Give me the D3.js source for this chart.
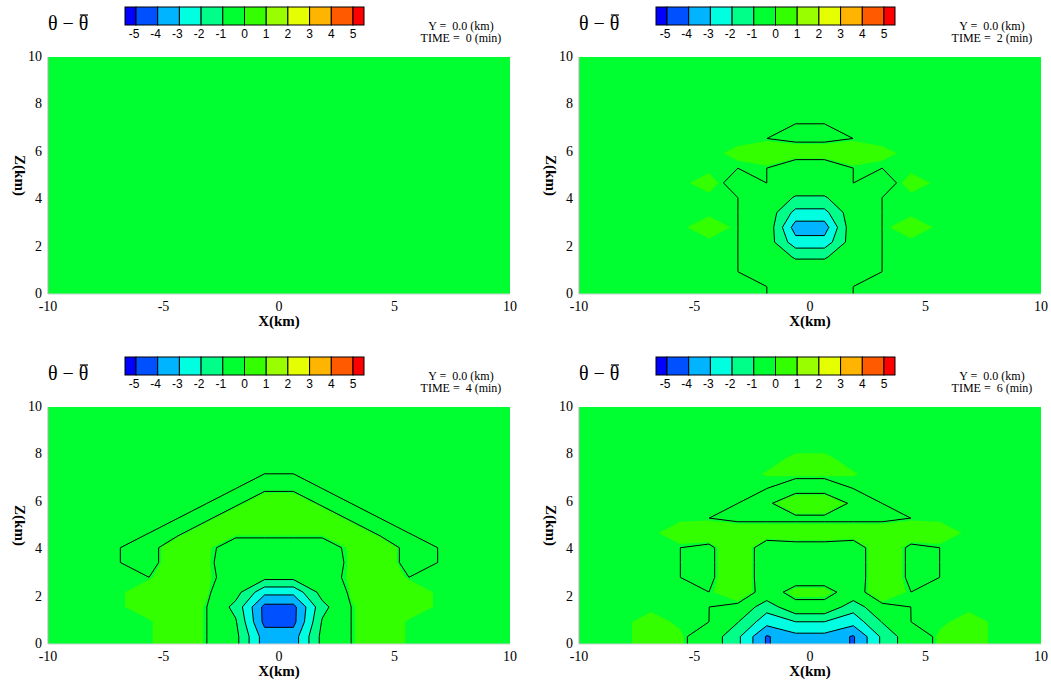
<!DOCTYPE html>
<html>
<head>
<meta charset="utf-8">
<script src="https://cdn.jsdelivr.net/npm/d3@7"></script>
<style>
body { margin: 0; background: #fff; }
</style>
</head>
<body>
<svg id="chart" width="1051" height="688"></svg>
<script>
// contour levels of theta - theta_bar and the colour of each band
var levels = [-5, -4, -3, -2, -1, 0, 1, 2, 3, 4, 5];
var bandColors = ["#0000ff", "#0050ff", "#00b4ff", "#00ffe0", "#00ff88", "#00ff30",
                  "#33ff00", "#99ff00", "#e6ff00", "#ffb400", "#ff5a00", "#ff0000"];
var xTicks = [-10, -5, 0, 5, 10];
var zTicks = [0, 2, 4, 6, 8, 10];
var xDomain = [-10, 10];
var zDomain = [0, 10];
var times = [0, 2, 4, 6];
var yCut = "0.0";

// x-z section, rows from the top (z = 9.69 km) down to z = 0.31 km,
// 16 points in x from -9.375 to 9.375 km
var theta0 = [
  [0,0,0,0,0,0,0,0,0,0,0,0,0,0,0,0],
  [0,0,0,0,0,0,0,0,0,0,0,0,0,0,0,0],
  [0,0,0,0,0,0,0,0,0,0,0,0,0,0,0,0],
  [0,0,0,0,0,0,0,0,0,0,0,0,0,0,0,0],
  [0,0,0,0,0,0,0,0,0,0,0,0,0,0,0,0],
  [0,0,0,0,0,0,0,0,0,0,0,0,0,0,0,0],
  [0,0,0,0,0,0,0,0,0,0,0,0,0,0,0,0],
  [0,0,0,0,0,0,0,0,0,0,0,0,0,0,0,0],
  [0,0,0,0,0,0,0,0,0,0,0,0,0,0,0,0],
  [0,0,0,0,0,0,0,0,0,0,0,0,0,0,0,0],
  [0,0,0,0,0,0,0,0,0,0,0,0,0,0,0,0],
  [0,0,0,0,0,0,0,0,0,0,0,0,0,0,0,0],
  [0,0,0,0,0,0,0,0,0,0,0,0,0,0,0,0],
  [0,0,0,0,0,0,0,0,0,0,0,0,0,0,0,0],
  [0,0,0,0,0,0,0,0,0,0,0,0,0,0,0,0],
  [0,0,0,0,0,0,0,0,0,0,0,0,0,0,0,0]
];
var theta2 = [
  [0,0,0,0,0,0,0,0,0,0,0,0,0,0,0,0],
  [0,0,0,0,0,0,0,0,0,0,0,0,0,0,0,0],
  [0,0,0,0,0,0,0,0,0,0,0,0,0,0,0,0],
  [0,0,0,0,0,0,0,0,0,0,0,0,0,0,0,0],
  [0,0,0,0,0,0,0,0,0,0,0,0,0,0,0,0],
  [0,0,0,0,0,0,0,-0.1,-0.1,0,0,0,0,0,0,0],
  [0,0,0,0,0,0.1,0.3,0.3,0.3,0.3,0.1,0,0,0,0,0],
  [0,0,0,0,0,0,0,-0.4,-0.4,0,0,0,0,0,0,0],
  [0,0,0,0,0.15,-0.15,0,-0.3,-0.3,0,-0.15,0.15,0,0,0,0],
  [0,0,0,0,0,0,-0.2,-1.1,-1.1,-0.2,0,0,0,0,0,0],
  [0,0,0,0,0,0,-0.3,-2.3,-2.3,-0.3,0,0,0,0,0,0],
  [0,0,0,0,0.2,0,-0.2,-3.5,-3.5,-0.2,0,0.2,0,0,0,0],
  [0,0,0,0,0,0,-0.4,-2.6,-2.6,-0.4,0,0,0,0,0,0],
  [0,0,0,0,0,0,-0.3,-1.1,-1.1,-0.3,0,0,0,0,0,0],
  [0,0,0,0,0,0,-0.2,-0.4,-0.4,-0.2,0,0,0,0,0,0],
  [0,0,0,0,0,0,0,-0.2,-0.2,0,0,0,0,0,0,0]
];
var theta4 = [
  [0,0,0,0,0,0,0,0,0,0,0,0,0,0,0,0],
  [0,0,0,0,0,0,0,0,0,0,0,0,0,0,0,0],
  [0,0,0,0,0,0,0,0,0,0,0,0,0,0,0,0],
  [0,0,0,0,0,0,0,0,0,0,0,0,0,0,0,0],
  [0,0,0,0,0,0,0,0,0,0,0,0,0,0,0,0],
  [0,0,0,0,0,0,0,-0.1,-0.1,0,0,0,0,0,0,0],
  [0,0,0,0,0,0,-0.1,0.4,0.4,-0.1,0,0,0,0,0,0],
  [0,0,0,0,0,-0.1,0.4,0.4,0.4,0.4,-0.1,0,0,0,0,0],
  [0,0,0,0,-0.1,0.4,0.1,0.1,0.1,0.1,0.4,-0.1,0,0,0,0],
  [0,0,0,-0.2,0.4,0.1,-0.2,-0.2,-0.2,-0.2,0.1,0.4,-0.2,0,0,0],
  [0,0,0,-0.2,0.4,0.1,-0.3,-0.2,-0.2,-0.3,0.1,0.4,-0.2,0,0,0],
  [0,0,0,0,0.4,0.1,-0.2,-0.7,-0.7,-0.2,0.1,0.4,0,0,0,0],
  [0,0,0,0.3,0.4,0.1,-0.6,-2.7,-2.7,-0.6,0.1,0.4,0.3,0,0,0],
  [0,0,0,0.3,0.4,0,-1.3,-4.3,-4.3,-1.3,0,0.4,0.3,0,0,0],
  [0,0,0,0,0.4,0,-0.9,-4.3,-4.3,-0.9,0,0.4,0,0,0,0],
  [0,0,0,0,0.4,0,-0.7,-3.5,-3.5,-0.7,0,0.4,0,0,0,0]
];
var theta6 = [
  [0,0,0,0,0,0,0,0,0,0,0,0,0,0,0,0],
  [0,0,0,0,0,0,0,0,0,0,0,0,0,0,0,0],
  [0,0,0,0,0,0,0,0,0,0,0,0,0,0,0,0],
  [0,0,0,0,0,0,0,0.08,0.08,0,0,0,0,0,0,0],
  [0,0,0,0,0,0,0.06,0.1,0.1,0.06,0,0,0,0,0,0],
  [0,0,0,0,0,0,0,-0.2,-0.2,0,0,0,0,0,0,0],
  [0,0,0,0,0,0,-0.1,0.4,0.4,-0.1,0,0,0,0,0,0],
  [0,0,0,0,0,-0.1,-0.1,-0.1,-0.1,-0.1,-0.1,0,0,0,0,0],
  [0,0,0,0.2,0.3,0.3,0.3,0.3,0.3,0.3,0.3,0.3,0.2,0,0,0],
  [0,0,0,0,-0.1,0.4,-0.3,-0.2,-0.2,-0.3,0.4,-0.1,0,0,0,0],
  [0,0,0,0,-0.1,0.4,-0.3,-0.2,-0.2,-0.3,0.4,-0.1,0,0,0,0],
  [0,0,0,0,-0.1,0.4,-0.3,-0.2,-0.2,-0.3,0.4,-0.1,0,0,0,0],
  [0,0,0,0,0,0.3,-0.2,0.15,0.15,-0.2,0.3,0,0,0,0,0],
  [0,0,0,0,0,-0.1,-1.6,-0.15,-0.15,-1.6,-0.1,0,0,0,0,0],
  [0,0,0.15,0,0,-0.95,-2.6,-2.0,-2.0,-2.6,-0.95,0,0,0.15,0,0],
  [0,0,0.15,0.1,-0.3,-1.8,-4.1,-3.3,-3.3,-4.1,-1.8,-0.3,0.1,0.15,0,0]
];
var fields = [theta0, theta2, theta4, theta6];

var serif = "'Liberation Serif', 'DejaVu Serif', serif";
var sans = "'Liberation Sans', Arial, sans-serif";
var panelW = 462, panelH = 237;
var origins = [[48, 57], [579, 57], [48, 407], [579, 407]];
var posFloor = 0.05;	// smallest positive value that gets the 0..1 colour
var zeroLine = 0.001;	// zero contour sits right on the zero points

var svg = d3.select("#chart");
var defs = svg.append("defs");

// grid with one extra row/column copied from the edge, bottom row first
function padGrid(rows, sign) {
	var nz = rows.length, nx = rows[0].length;
	var up = rows.slice().reverse();
	var out = [];
	for (var j = -1; j <= nz; ++j) {
		for (var i = -1; i <= nx; ++i) {
			var jj = Math.max(0, Math.min(nz - 1, j));
			var ii = Math.max(0, Math.min(nx - 1, i));
			out.push(sign * up[jj][ii]);
		}
	}
	return out;
}

function drawPanel(k) {
	var rows = fields[k];
	var nz = rows.length, nx = rows[0].length;
	var ox = origins[k][0], oy = origins[k][1];
	var xScale = d3.scaleLinear().domain(xDomain).range([ox, ox + panelW]);
	var zScale = d3.scaleLinear().domain(zDomain).range([oy + panelH, oy]);
	var dx = (xDomain[1] - xDomain[0]) / nx;
	var dz = (zDomain[1] - zDomain[0]) / nz;

	var path = d3.geoPath(d3.geoTransform({
		point: function(x, y) {
			this.stream.point(xScale(xDomain[0] + (x - 1) * dx), zScale(zDomain[0] + (y - 1) * dz));
		}
	}));

	var pos = padGrid(rows, 1);
	var neg = padGrid(rows, -1);
	var size = [nx + 2, nz + 2];

	defs.append("clipPath")
		.attr("id", "clip" + k)
		.append("rect")
		.attr("x", ox).attr("y", oy)
		.attr("width", panelW).attr("height", panelH);

	var g = svg.append("g").attr("clip-path", "url(#clip" + k + ")");

	g.append("rect")
		.attr("x", ox).attr("y", oy)
		.attr("width", panelW).attr("height", panelH)
		.attr("fill", bandColors[5]);

	// warm bands: value above 0, 1, 2 ...
	var posLevels = levels.filter(function(d) { return d >= 0; })
		.map(function(d) { return d === 0 ? posFloor : d; });
	g.selectAll("path.warm")
		.data(d3.contours().size(size).thresholds(posLevels)(pos))
		.enter()
		.append("path")
		.attr("class", "warm")
		.attr("d", path)
		.attr("fill", function(d, i) { return bandColors[6 + i]; });

	// cold bands: value at or below -1, -2, ...
	var negLevels = levels.filter(function(d) { return d < 0; })
		.map(function(d) { return -d; }).sort(d3.ascending);
	g.selectAll("path.cold")
		.data(d3.contours().size(size).thresholds(negLevels)(neg))
		.enter()
		.append("path")
		.attr("class", "cold")
		.attr("d", path)
		.attr("fill", function(d, i) { return bandColors[4 - i]; });

	// zero line (traced on the non-negative side so that diagonal
	// runs of cold points stay joined), then -1, -2, -3, -4
	var lines = d3.contours().size(size).thresholds([-zeroLine])(pos)
		.concat(d3.contours().size(size).thresholds(negLevels.slice(0, 4))(neg));
	g.selectAll("path.line")
		.data(lines)
		.enter()
		.append("path")
		.attr("class", "line")
		.attr("d", path)
		.attr("fill", "none")
		.attr("stroke", "#000")
		.attr("stroke-width", 1);

	// frame
	svg.append("line")
		.attr("x1", ox).attr("x2", ox)
		.attr("y1", oy).attr("y2", oy + panelH)
		.attr("stroke", "#b0b0b0");
	svg.append("line")
		.attr("x1", ox).attr("x2", ox + panelW)
		.attr("y1", oy + panelH).attr("y2", oy + panelH)
		.attr("stroke", "#d0d0d0");

	// ticks
	svg.append("g").selectAll("text")
		.data(zTicks)
		.enter()
		.append("text")
		.attr("x", ox - 6)
		.attr("y", function(d) { return zScale(d) + 4; })
		.attr("text-anchor", "end")
		.attr("font-family", serif)
		.attr("font-size", 14)
		.text(function(d) { return d; });
	svg.append("g").selectAll("text")
		.data(xTicks)
		.enter()
		.append("text")
		.attr("x", function(d) { return xScale(d); })
		.attr("y", oy + panelH + 17)
		.attr("text-anchor", "middle")
		.attr("font-family", serif)
		.attr("font-size", 14)
		.text(function(d) { return d; });

	svg.append("text")
		.attr("x", ox + panelW / 2)
		.attr("y", oy + panelH + 32)
		.attr("text-anchor", "middle")
		.attr("font-family", serif)
		.attr("font-weight", "bold")
		.attr("font-size", 15)
		.text("X(km)");
	svg.append("text")
		.attr("transform", "translate(" + (ox - 33) + "," + (oy + panelH / 2) + ") rotate(90)")
		.attr("text-anchor", "middle")
		.attr("font-family", serif)
		.attr("font-weight", "bold")
		.attr("font-size", 15)
		.text("Z(km)");

	// title theta - theta_bar
	var title = svg.append("text")
		.attr("x", ox)
		.attr("y", oy - 27)
		.attr("font-family", serif)
		.attr("font-size", 20)
		.text("\u03b8 \u2212 \u03b8");
	var box = title.node().getExtentOfChar(4);
	svg.append("line")
		.attr("x1", box.x + 1).attr("x2", box.x + box.width - 0.5)
		.attr("y1", box.y + 3).attr("y2", box.y + 3)
		.attr("stroke", "#000")
		.attr("stroke-width", 1.2);

	// colour bar
	var cbScale = d3.scaleLinear().domain([levels[0], levels[levels.length - 1]])
		.range([ox + 88, ox + 305]);
	var endW = 11;
	var edges = [cbScale(levels[0]) - endW].concat(levels.map(cbScale), [cbScale(levels[levels.length - 1]) + endW]);
	var cb = svg.append("g");
	cb.selectAll("rect")
		.data(bandColors)
		.enter()
		.append("rect")
		.attr("x", function(d, i) { return edges[i]; })
		.attr("y", oy - 50)
		.attr("width", function(d, i) { return edges[i + 1] - edges[i]; })
		.attr("height", 18)
		.attr("fill", function(d) { return d; })
		.attr("stroke", "#000")
		.attr("stroke-width", 1);
	cb.selectAll("text")
		.data(levels)
		.enter()
		.append("text")
		.attr("x", function(d) { return cbScale(d) - (d < 0 ? 2 : 0); })
		.attr("y", oy - 19)
		.attr("text-anchor", "middle")
		.attr("font-family", sans)
		.attr("font-size", 12)
		.text(function(d) { return d; });

	svg.append("text")
		.attr("x", ox + 413)
		.attr("y", oy - 27.5)
		.attr("text-anchor", "middle")
		.attr("font-family", serif)
		.attr("font-size", 12)
		.style("white-space", "pre")
		.text("Y =  " + yCut + " (km)");
	svg.append("text")
		.attr("x", ox + 413)
		.attr("y", oy - 15.5)
		.attr("text-anchor", "middle")
		.attr("font-family", serif)
		.attr("font-size", 12)
		.style("white-space", "pre")
		.text("TIME =  " + times[k] + " (min)");
}

for (var k = 0; k < fields.length; ++k) {
	drawPanel(k);
}
</script>
</body>
</html>
